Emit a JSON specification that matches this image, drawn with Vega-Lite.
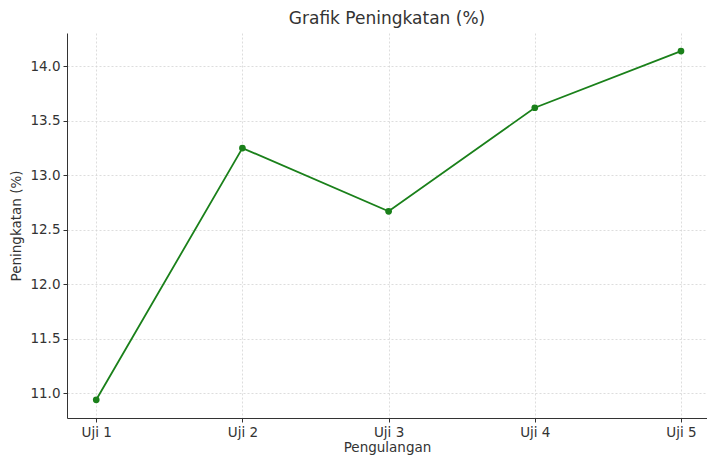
{
  "$schema": "https://vega.github.io/schema/vega-lite/v6.json",
  "width": 640,
  "height": 385,
  "autosize": {"type": "none"},
  "padding": {"left": 67, "top": 33, "right": 0, "bottom": 41},
  "background": "white",
  "title": {"text": "Grafik Peningkatan (%)", "font": "DejaVu Sans", "fontSize": 17, "fontWeight": "normal", "color": "#333333", "offset": 5},
  "config": {
    "view": {"stroke": null},
    "axis": {"labelFont": "DejaVu Sans", "titleFont": "DejaVu Sans", "labelFontSize": 13.5, "titleFontSize": 13.5, "titleFontWeight": "normal", "labelColor": "#333333", "titleColor": "#333333", "domainColor": "#333333", "tickColor": "#333333", "gridColor": "#d4d4d4", "gridDash": [2, 2], "gridWidth": 0.8, "tickSize": 4, "labelPadding": 3}
  },
  "data": {"values": [
    {"uji": 1, "peningkatan": 10.94},
    {"uji": 2, "peningkatan": 13.25},
    {"uji": 3, "peningkatan": 12.67},
    {"uji": 4, "peningkatan": 13.62},
    {"uji": 5, "peningkatan": 14.14}
  ]},
  "encoding": {
    "x": {"field": "uji", "type": "quantitative", "scale": {"domain": [0.8, 5.178], "nice": false, "zero": false}, "axis": {"title": "Pengulangan", "values": [1, 2, 3, 4, 5], "labelExpr": "'Uji ' + datum.value", "titlePadding": 2, "labelFlush": false}},
    "y": {"field": "peningkatan", "type": "quantitative", "scale": {"domain": [10.773, 14.306], "nice": false, "zero": false}, "axis": {"title": "Peningkatan (%)", "values": [11.0, 11.5, 12.0, 12.5, 13.0, 13.5, 14.0], "format": ".1f", "titlePadding": 6, "labelFlush": false}}
  },
  "layer": [
    {"mark": {"type": "line", "color": "#1a801a", "strokeWidth": 1.8}},
    {"mark": {"type": "point", "filled": true, "color": "#1a801a", "size": 45, "opacity": 1}}
  ]
}
